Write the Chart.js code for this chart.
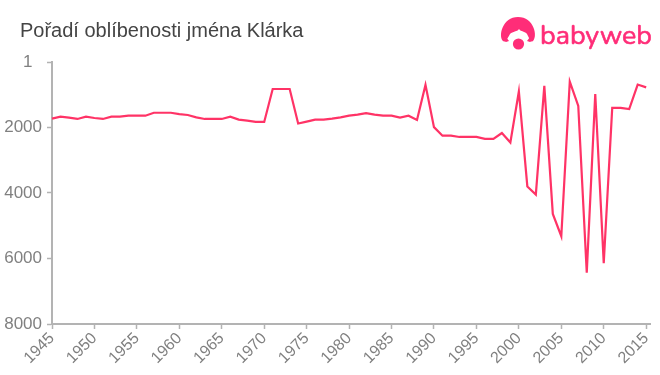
<!DOCTYPE html>
<html><head><meta charset="utf-8">
<style>
html,body{margin:0;padding:0;background:#fff;width:660px;height:375px;overflow:hidden}
#wrap{position:relative;width:660px;height:375px}
canvas{position:absolute;left:0;top:0}
#title{position:absolute;left:20px;top:19px;font:20px "Liberation Sans",Arial,sans-serif;color:#444;white-space:nowrap}
#logo{position:absolute;left:490px;top:5px}
</style>
<script src="https://cdn.jsdelivr.net/npm/chart.js@4"></script>
</head><body><div id="wrap">
<canvas id="c" width="660" height="375"></canvas>
<div id="title">Pořadí oblíbenosti jména Klárka</div>
<svg id="logo" width="170" height="55" viewBox="0 0 170 55">
<path d="M13 36 C8 31 12.500 12 28 12 C44 12 48 31 43 36 C41 38 39 33 37 29 C35 26 31 27 29 24 C27 27 23 26 20 29 C18 33 15 38 13 36 Z" fill="#ff2d78"/>
<path d="M13 28 a6 6 0 0 0 3 9 l3 -1 z M43 28 a6 6 0 0 1 -3 9 l-3 -1 z" fill="#ff2d78"/>
<circle cx="28.500" cy="39" r="5.600" fill="#ff2d78"/>
<text x="50" y="38.500" font-family="Nunito,'Open Sans',Lato,sans-serif" font-size="27" fill="#ff2d78" stroke="#ff2d78" stroke-width="0.6" textLength="112" lengthAdjust="spacingAndGlyphs">babyweb</text>
</svg>
</div>
<script>
const years=[1945,1946,1947,1948,1949,1950,1951,1952,1953,1954,1955,1956,1957,1958,1959,1960,1961,1962,1963,1964,1965,1966,1967,1968,1969,1970,1971,1972,1973,1974,1975,1976,1977,1978,1979,1980,1981,1982,1983,1984,1985,1986,1987,1988,1989,1990,1991,1992,1993,1994,1995,1996,1997,1998,1999,2000,2001,2002,2003,2004,2005,2006,2007,2008,2009,2010,2011,2012,2013,2014,2015];
const ranks=[1730,1670,1700,1740,1670,1710,1740,1670,1670,1640,1640,1640,1550,1550,1550,1590,1620,1690,1740,1740,1740,1670,1760,1790,1830,1830,825,825,825,1880,1820,1760,1760,1730,1690,1640,1610,1560,1610,1640,1640,1700,1640,1770,700,1990,2250,2250,2290,2290,2290,2350,2350,2170,2460,900,3800,4050,730,4640,5320,600,1340,6430,980,6140,1400,1400,1440,690,775];
const yTicks=[1,2000,4000,6000,8000];
const xTicks=[1945,1950,1955,1960,1965,1970,1975,1980,1985,1990,1995,2000,2005,2010,2015];
const axisColor='#b3b3b3', tickColor='#808080', lineColor='#ff3366';
new Chart(document.getElementById('c'),{
  type:'line',
  data:{datasets:[{data:years.map((y,i)=>({x:y,y:ranks[i]})),borderColor:lineColor,borderWidth:2.2,pointRadius:0,tension:0,fill:false,clip:false}]},
  options:{
    responsive:false,animation:false,
    layout:{padding:{left:0,top:62,right:10,bottom:0}},
    plugins:{legend:{display:false},title:{display:false},tooltip:{enabled:false}},
    scales:{
      x:{type:'linear',min:1945,max:2015.45,
        afterBuildTicks:s=>{s.ticks=xTicks.map(v=>({value:v}))},
        afterFit:s=>{s.height=51},
        border:{color:axisColor,width:2},
        grid:{drawOnChartArea:false,color:axisColor,tickLength:5,tickWidth:1.5},
        ticks:{autoSkip:false,maxRotation:45,minRotation:45,padding:0,color:tickColor,font:{family:'"Liberation Sans",Arial,sans-serif',size:16},callback:v=>String(v)}},
      y:{type:'linear',reverse:true,min:1,max:8000,
        afterBuildTicks:s=>{s.ticks=yTicks.map(v=>({value:v}))},
        afterFit:s=>{s.width=52},
        border:{color:axisColor,width:2},
        grid:{drawOnChartArea:false,color:axisColor,tickLength:5,tickWidth:1.5},
        ticks:{padding:5,color:tickColor,font:{family:'"Liberation Sans",Arial,sans-serif',size:17},callback:v=>v===1?'1  ':String(v)}}
    }
  }
});
</script>
</body></html>
